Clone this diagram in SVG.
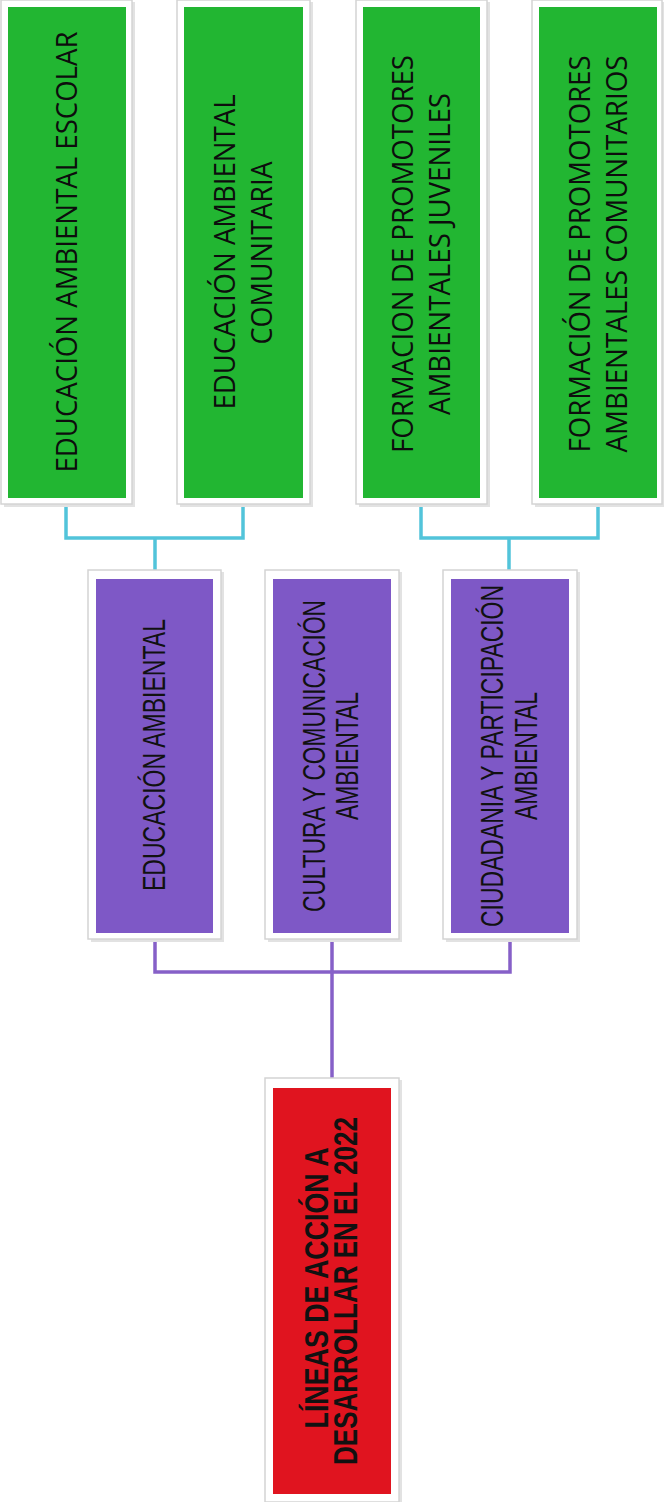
<svg xmlns="http://www.w3.org/2000/svg" width="664" height="1502" viewBox="0 0 664 1502">
<defs>
<style>
.frame{fill:#ffffff;stroke:#d4d4d4;stroke-width:1.5}
.shadow{fill:#e2e2e2}
.green{fill:#22b632}
.purple{fill:#7e58c6}
.red{fill:#e0141f}
.gt{font-family:"Open Sans","Noto Sans",sans-serif;font-size:28.5px;fill:#0d0d0d;text-anchor:middle}
.pt{font-family:"Liberation Sans Narrow","Liberation Sans",Arial,sans-serif;font-size:31px;fill:#111;text-anchor:middle}
.rt{font-family:"Liberation Sans Narrow","Liberation Sans",Arial,sans-serif;font-size:34px;font-weight:bold;fill:#111;text-anchor:middle}
.cy{fill:none;stroke:#52c4da;stroke-width:3.5}
.pu{fill:none;stroke:#8660c8;stroke-width:3.5}
</style>
</defs>
<rect width="664" height="1502" fill="#ffffff"/>
<g id="connectors">
<path class="cy" d="M66,500 V538 H243 V500 M155,538 V574"/>
<path class="cy" d="M421,500 V538 H598 V500 M509,538 V574"/>
<path class="pu" d="M155,936 V972 H510 V936 M332,936 V1082"/>
</g>
<g id="n1">
<rect class="shadow" x="4" y="2" width="131" height="505"/>
<rect class="frame" x="1" y="0" width="131" height="504"/>
<rect class="green" x="8" y="7" width="118" height="491"/>
<text class="gt" transform="translate(77,252) rotate(-90)" textLength="441" lengthAdjust="spacingAndGlyphs">EDUCACIÓN AMBIENTAL ESCOLAR</text>
</g>
<g id="n2">
<rect class="shadow" x="180" y="2" width="133" height="505"/>
<rect class="frame" x="177" y="0" width="133" height="504"/>
<rect class="green" x="184" y="7" width="119" height="491"/>
<text class="gt" transform="translate(235,252) rotate(-90)" textLength="315" lengthAdjust="spacingAndGlyphs">EDUCACIÓN AMBIENTAL</text>
<text class="gt" transform="translate(272,253) rotate(-90)" textLength="183" lengthAdjust="spacingAndGlyphs">COMUNITARIA</text>
</g>
<g id="n3">
<rect class="shadow" x="359" y="2" width="131" height="505"/>
<rect class="frame" x="356" y="0" width="131" height="504"/>
<rect class="green" x="363" y="7" width="117" height="491"/>
<text class="gt" transform="translate(413,254) rotate(-90)" textLength="398" lengthAdjust="spacingAndGlyphs">FORMACION DE PROMOTORES</text>
<text class="gt" transform="translate(450,254) rotate(-90)" textLength="322" lengthAdjust="spacingAndGlyphs">AMBIENTALES JUVENILES</text>
</g>
<g id="n4">
<rect class="shadow" x="535" y="2" width="129" height="505"/>
<rect class="frame" x="532" y="0" width="130" height="504"/>
<rect class="green" x="539" y="7" width="118" height="491"/>
<text class="gt" transform="translate(590,254) rotate(-90)" textLength="397" lengthAdjust="spacingAndGlyphs">FORMACIÓN DE PROMOTORES</text>
<text class="gt" transform="translate(627,254) rotate(-90)" textLength="397" lengthAdjust="spacingAndGlyphs">AMBIENTALES COMUNITARIOS</text>
</g>
<g id="p1">
<rect class="shadow" x="91" y="572" width="133" height="370"/>
<rect class="frame" x="88" y="570" width="133" height="369"/>
<rect class="purple" x="96" y="579" width="117" height="354"/>
<text class="pt" transform="translate(165,755) rotate(-90)" textLength="272" lengthAdjust="spacingAndGlyphs">EDUCACIÓN AMBIENTAL</text>
</g>
<g id="p2">
<rect class="shadow" x="268" y="572" width="134" height="370"/>
<rect class="frame" x="265" y="570" width="134" height="369"/>
<rect class="purple" x="273" y="579" width="118" height="354"/>
<text class="pt" transform="translate(325,756) rotate(-90)" textLength="312" lengthAdjust="spacingAndGlyphs">CULTURA Y COMUNICACIÓN</text>
<text class="pt" transform="translate(358,756) rotate(-90)" textLength="128" lengthAdjust="spacingAndGlyphs">AMBIENTAL</text>
</g>
<g id="p3">
<rect class="shadow" x="446" y="572" width="134" height="370"/>
<rect class="frame" x="443" y="570" width="134" height="369"/>
<rect class="purple" x="451" y="579" width="118" height="354"/>
<text class="pt" transform="translate(503,756) rotate(-90)" textLength="342" lengthAdjust="spacingAndGlyphs">CIUDADANIA Y PARTICIPACIÓN</text>
<text class="pt" transform="translate(537,756) rotate(-90)" textLength="128" lengthAdjust="spacingAndGlyphs">AMBIENTAL</text>
</g>
<g id="root">
<rect class="shadow" x="268" y="1080" width="134" height="422"/>
<rect class="frame" x="265" y="1078" width="134" height="424"/>
<rect class="red" x="273" y="1088" width="118" height="406"/>
<text class="rt" transform="translate(328,1288) rotate(-90)" textLength="281" lengthAdjust="spacingAndGlyphs">LÍNEAS DE ACCIÓN A</text>
<text class="rt" transform="translate(357,1291) rotate(-90)" textLength="348" lengthAdjust="spacingAndGlyphs">DESARROLLAR EN EL 2022</text>
</g>
</svg>
